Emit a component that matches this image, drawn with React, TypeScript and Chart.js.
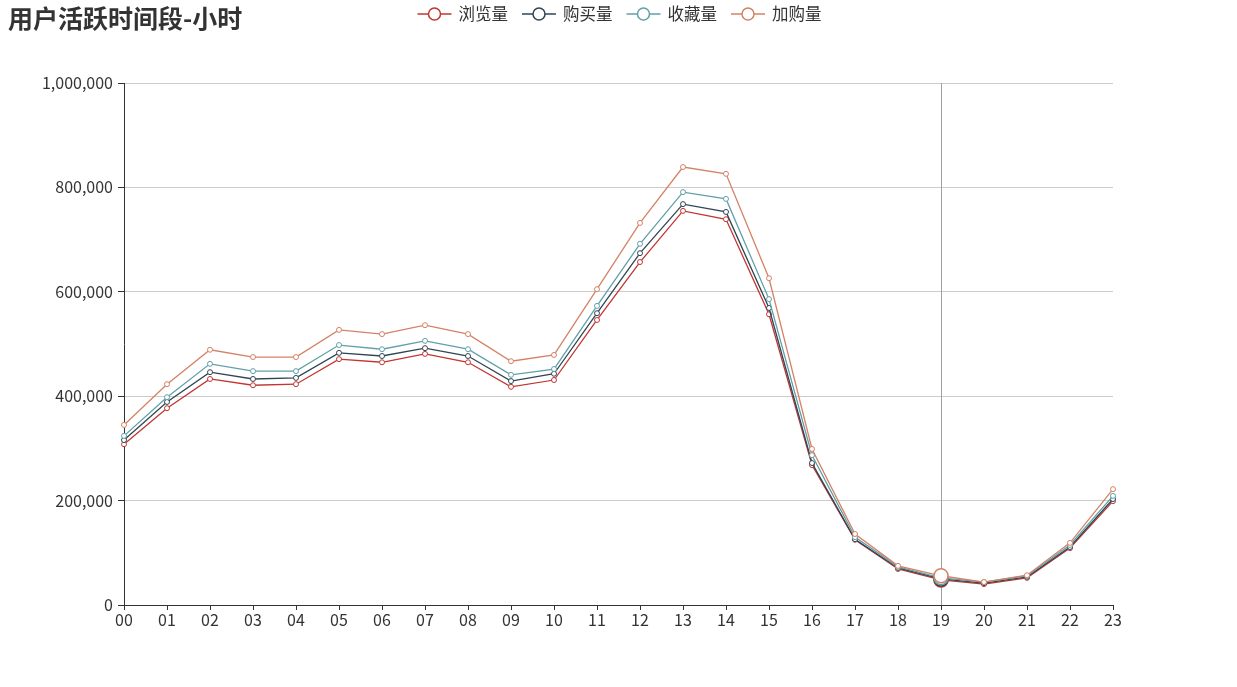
import React, { useEffect, useRef } from "react";
import { Chart, registerables } from "chart.js";

Chart.register(...registerables);

const hours = ["00","01","02","03","04","05","06","07","08","09","10","11","12","13","14","15","16","17","18","19","20","21","22","23"];

const seriesNames = ["浏览量", "购买量", "收藏量", "加购量"];
const seriesColors = ["#c23531", "#2f4554", "#61a0a8", "#d48265"];

const browse = [308000,377000,433000,421000,423000,471000,465000,481000,465000,418000,431000,546000,657000,755000,739000,557000,268000,125000,69000,48000,40000,52000,109000,199000];
const buy = [316000,389000,446000,433000,435000,483000,477000,492000,477000,429000,443000,559000,674000,768000,753000,569000,272000,126000,71000,50000,42000,54000,111000,203000];
const favorite = [324000,398000,462000,448000,448000,498000,490000,506000,490000,441000,452000,573000,692000,791000,778000,586000,287000,130000,73000,52000,44000,56000,115000,209000];
const addCart = [345000,423000,489000,475000,475000,527000,519000,536000,519000,467000,479000,605000,732000,839000,826000,626000,299000,136000,75000,56000,44000,57000,119000,222000];

const yTicks = [0, 200000, 400000, 600000, 800000, 1000000];
const titleText = "用户活跃时间段-小时";
const hoverIndex = 19;

const FONT = "'Noto Sans CJK SC', 'Noto Sans', sans-serif";

export default function App() {
  const ref = useRef<HTMLCanvasElement | null>(null);

  useEffect(() => {
    document.body.style.margin = "0";
    const canvas = ref.current;
    if (!canvas) return;
    const allData = [browse, buy, favorite, addCart];

    const overlay = {
      id: "overlay",
      beforeDatasetsDraw(chart: any) {
        const { ctx, chartArea, scales } = chart;
        const x = Math.round(scales.x.getPixelForValue(hoverIndex)) + 0.5;
        ctx.save();
        ctx.strokeStyle = "#a0a0a0";
        ctx.lineWidth = 1;
        ctx.beginPath();
        ctx.moveTo(x, chartArea.top);
        ctx.lineTo(x, chartArea.bottom);
        ctx.stroke();
        ctx.restore();
      },
      afterDraw(chart: any) {
        const { ctx } = chart;
        ctx.save();
        // title
        ctx.fillStyle = "#333";
        ctx.font = `bold 25px ${FONT}`;
        ctx.textBaseline = "middle";
        ctx.textAlign = "left";
        ctx.fillText(titleText, 8, 18);
        // legend
        ctx.font = `16.5px ${FONT}`;
        const iconW = 34;
        const gapIconText = 7;
        const gapItems = 14;
        const widths = seriesNames.map((n) => ctx.measureText(n).width);
        const total = widths.reduce((a, w) => a + iconW + gapIconText + w, 0) + gapItems * (seriesNames.length - 1);
        let x = 619.5 - total / 2;
        const y = 14;
        seriesNames.forEach((n, i) => {
          ctx.strokeStyle = seriesColors[i];
          ctx.lineWidth = 1.5;
          ctx.beginPath();
          ctx.moveTo(x, y);
          ctx.lineTo(x + iconW, y);
          ctx.stroke();
          ctx.beginPath();
          ctx.arc(x + iconW / 2, y, 6, 0, Math.PI * 2);
          ctx.fillStyle = "#fff";
          ctx.fill();
          ctx.stroke();
          ctx.fillStyle = "#333";
          ctx.textAlign = "left";
          ctx.fillText(n, x + iconW + gapIconText, y);
          x += iconW + gapIconText + widths[i] + gapItems;
        });
        ctx.restore();
      },
    };

    const chart = new Chart(canvas, {
      type: "line",
      data: {
        labels: hours,
        datasets: allData.map((d, i) => ({
          label: seriesNames[i],
          data: d,
          borderColor: seriesColors[i],
          backgroundColor: "#fff",
          borderWidth: 1.3,
          pointRadius: (c: any) => (c.dataIndex === hoverIndex ? 7 : 2.5),
          pointBorderWidth: (c: any) => (c.dataIndex === hoverIndex ? 1.5 : 1),
          pointBackgroundColor: "#fff",
          pointBorderColor: seriesColors[i],
          tension: 0,
          order: allData.length - i,
        })),
      },
      options: {
        responsive: false,
        animation: false,
        layout: { padding: { top: 83, right: 124, bottom: 52, left: 0 } },
        plugins: { legend: { display: false }, tooltip: { enabled: false }, title: { display: false } },
        events: [],
        scales: {
          x: {
            type: "category",
            offset: false,
            afterFit: (s: any) => { s.height = 30; },
            grid: { drawOnChartArea: false, drawTicks: true, tickLength: 5, tickColor: "#333" },
            border: { color: "#333", width: 1 },
            ticks: { color: "#333", font: { family: FONT, size: 16 }, padding: 0, autoSkip: false, maxRotation: 0 },
          },
          y: {
            min: 0,
            max: 1000000,
            afterFit: (s: any) => { s.width = 124; },
            afterBuildTicks: (s: any) => { s.ticks = yTicks.map((v) => ({ value: v })); },
            grid: { color: "#ccc", tickLength: 6, tickColor: "#333" },
            border: { color: "#333", width: 1 },
            ticks: {
              color: "#333",
              font: { family: FONT, size: 16 },
              padding: 5,
              callback: (v: any) => Number(v).toLocaleString("en-US"),
            },
          },
        },
      },
      plugins: [overlay],
    } as any);
    return () => chart.destroy();
  }, []);

  return <canvas ref={ref} width={1237} height={687} style={{ display: "block" }} />;
}
